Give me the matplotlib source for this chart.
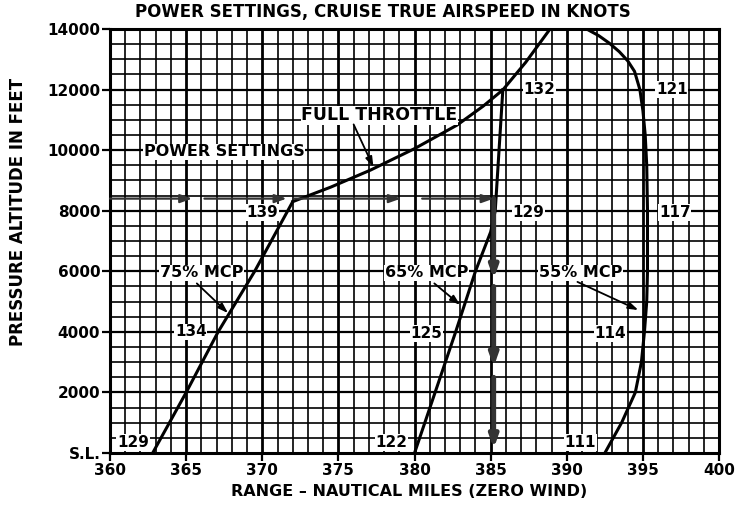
import numpy as np
import matplotlib.pyplot as plt

plt.rcParams['font.family'] = ['DejaVu Sans']
plt.rcParams['font.weight'] = 'bold'

# curves: range (nm) and pressure altitude (ft)
rng_75 = [362.8, 365.0, 367.1, 369.5, 372.0]
alt_75 = [0, 2000, 4000, 6000, 8300]

rng_65 = [380.0, 381.35, 382.7, 384.0, 385.0, 385.3, 385.55, 385.8]
alt_65 = [0, 2000, 4000, 6000, 7300, 8000, 10000, 12000]

rng_55 = [392.5, 393.6, 394.5, 394.9, 395.1, 395.25, 395.3, 395.3, 395.25,
          395.15, 395.0, 394.8, 394.45, 394.0, 393.45, 392.8, 392.1, 391.3]
alt_55 = [0, 1000, 2000, 3000, 4000, 5000, 6000, 8000, 9500,
          10500, 11300, 12000, 12600, 12950, 13250, 13530, 13780, 14000]

rng_full = [372.0, 374.5, 377.1, 380.0, 382.8, 384.5, 385.8, 387.3, 388.9]
alt_full = [8300, 8780, 9340, 10050, 10830, 11450, 11990, 12900, 14000]

# example path (power settings arrows)
path_x0 = [360.0, 366.2, 372.1, 380.5, 385.2, 385.2, 385.2]
path_y0 = [8400, 8400, 8400, 8400, 8400, 5500, 2500]
path_x1 = [365.4, 371.6, 379.1, 385.2, 385.2, 385.2, 385.2]
path_y1 = [8400, 8400, 8400, 8400, 5750, 2850, 150]

# true airspeed labels
tas_text = ['139', '134', '129', '132', '129', '125', '122', '121', '117', '114', '111']
tas_x = [370.0, 365.3, 361.5, 388.2, 387.5, 380.8, 378.5, 396.9, 397.1, 392.85, 390.9]
tas_y = [7950, 4000, 350, 12000, 7950, 3950, 350, 12000, 7950, 3950, 350]

# callouts: text, text position, arrow tip
note_text = ['75% MCP', '65% MCP', '55% MCP', 'FULL THROTTLE']
note_size = [11.5, 11.5, 11.5, 12.5]
note_x = [366.0, 380.8, 390.9, 377.7]
note_y = [5950, 5950, 5950, 11150]
tip_x = [367.75, 383.0, 394.7, 377.3]
tip_y = [4620, 4890, 4720, 9440]
tail_x = [365.7, 381.3, 390.7, 376.0]
tail_y = [5600, 5600, 5650, 10850]

fig = plt.figure(figsize=(7.35, 5.09), dpi=100)
ax = fig.add_axes([0.1497, 0.110, 0.8286, 0.833])
ax.set_xlim(360, 400)
ax.set_ylim(0, 14000)

# grid paper
for x in np.arange(361, 400, 1):
    ax.axvline(x, color='black', lw=2.0 if x % 5 == 0 else 1.2, zorder=1)
for y in np.arange(500, 14000, 500):
    ax.axhline(y, color='black', lw=1.6 if y % 2000 == 0 else 1.2, zorder=1)

for s in ax.spines.values():
    s.set_linewidth(2.2)

ax.plot(rng_75, alt_75, color='black', lw=2.2, zorder=3)
ax.plot(rng_65, alt_65, color='black', lw=2.2, zorder=3)
ax.plot(rng_55, alt_55, color='black', lw=2.2, zorder=3)
ax.plot(rng_full, alt_full, color='black', lw=2.2, zorder=3)

for i in range(len(path_x0)):
    vertical = path_x0[i] == path_x1[i]
    ax.annotate('', xy=(path_x1[i], path_y1[i]), xytext=(path_x0[i], path_y0[i]),
                arrowprops=dict(arrowstyle='-|>,head_length=0.7,head_width=0.25',
                                color='#333333', lw=3.5 if vertical else 1.6,
                                shrinkA=0, shrinkB=0), zorder=4)

for t, x, y in zip(tas_text, tas_x, tas_y):
    ax.text(x, y, t, ha='center', va='center', fontsize=11, zorder=5,
            bbox=dict(facecolor='white', edgecolor='none', pad=0.5))

for i in range(len(note_text)):
    ax.text(note_x[i], note_y[i], note_text[i], ha='center', va='center',
            fontsize=note_size[i], zorder=5,
            bbox=dict(facecolor='white', edgecolor='none', pad=0.5))
    ax.annotate('', xy=(tip_x[i], tip_y[i]), xytext=(tail_x[i], tail_y[i]),
                arrowprops=dict(arrowstyle='-|>,head_length=0.6,head_width=0.2',
                                color='black', lw=1.3, shrinkA=0, shrinkB=0),
                zorder=5)

ax.text(367.5, 9950, 'POWER SETTINGS', ha='center', va='center', fontsize=11.5,
        zorder=5, bbox=dict(facecolor='white', edgecolor='none', pad=0.5))

ax.set_xticks(np.arange(360, 401, 5))
ax.set_yticks(np.arange(0, 14001, 2000))
ax.set_yticklabels(['S.L.'] + [str(v) for v in range(2000, 14001, 2000)])
ax.tick_params(labelsize=11, length=6, width=1.6, pad=1)

fig.text(0.521, 0.976, 'POWER SETTINGS, CRUISE TRUE AIRSPEED IN KNOTS',
         ha='center', va='center', fontsize=12, fontweight='bold')
fig.text(0.557, 0.035, 'RANGE \u2013 NAUTICAL MILES (ZERO WIND)',
         ha='center', va='center', fontsize=11.5, fontweight='bold')
fig.text(0.025, 1 - 212 / 509, 'PRESSURE ALTITUDE IN FEET', rotation=90,
         ha='center', va='center', fontsize=12, fontweight='bold')

fig.savefig('out.png', dpi=100)
